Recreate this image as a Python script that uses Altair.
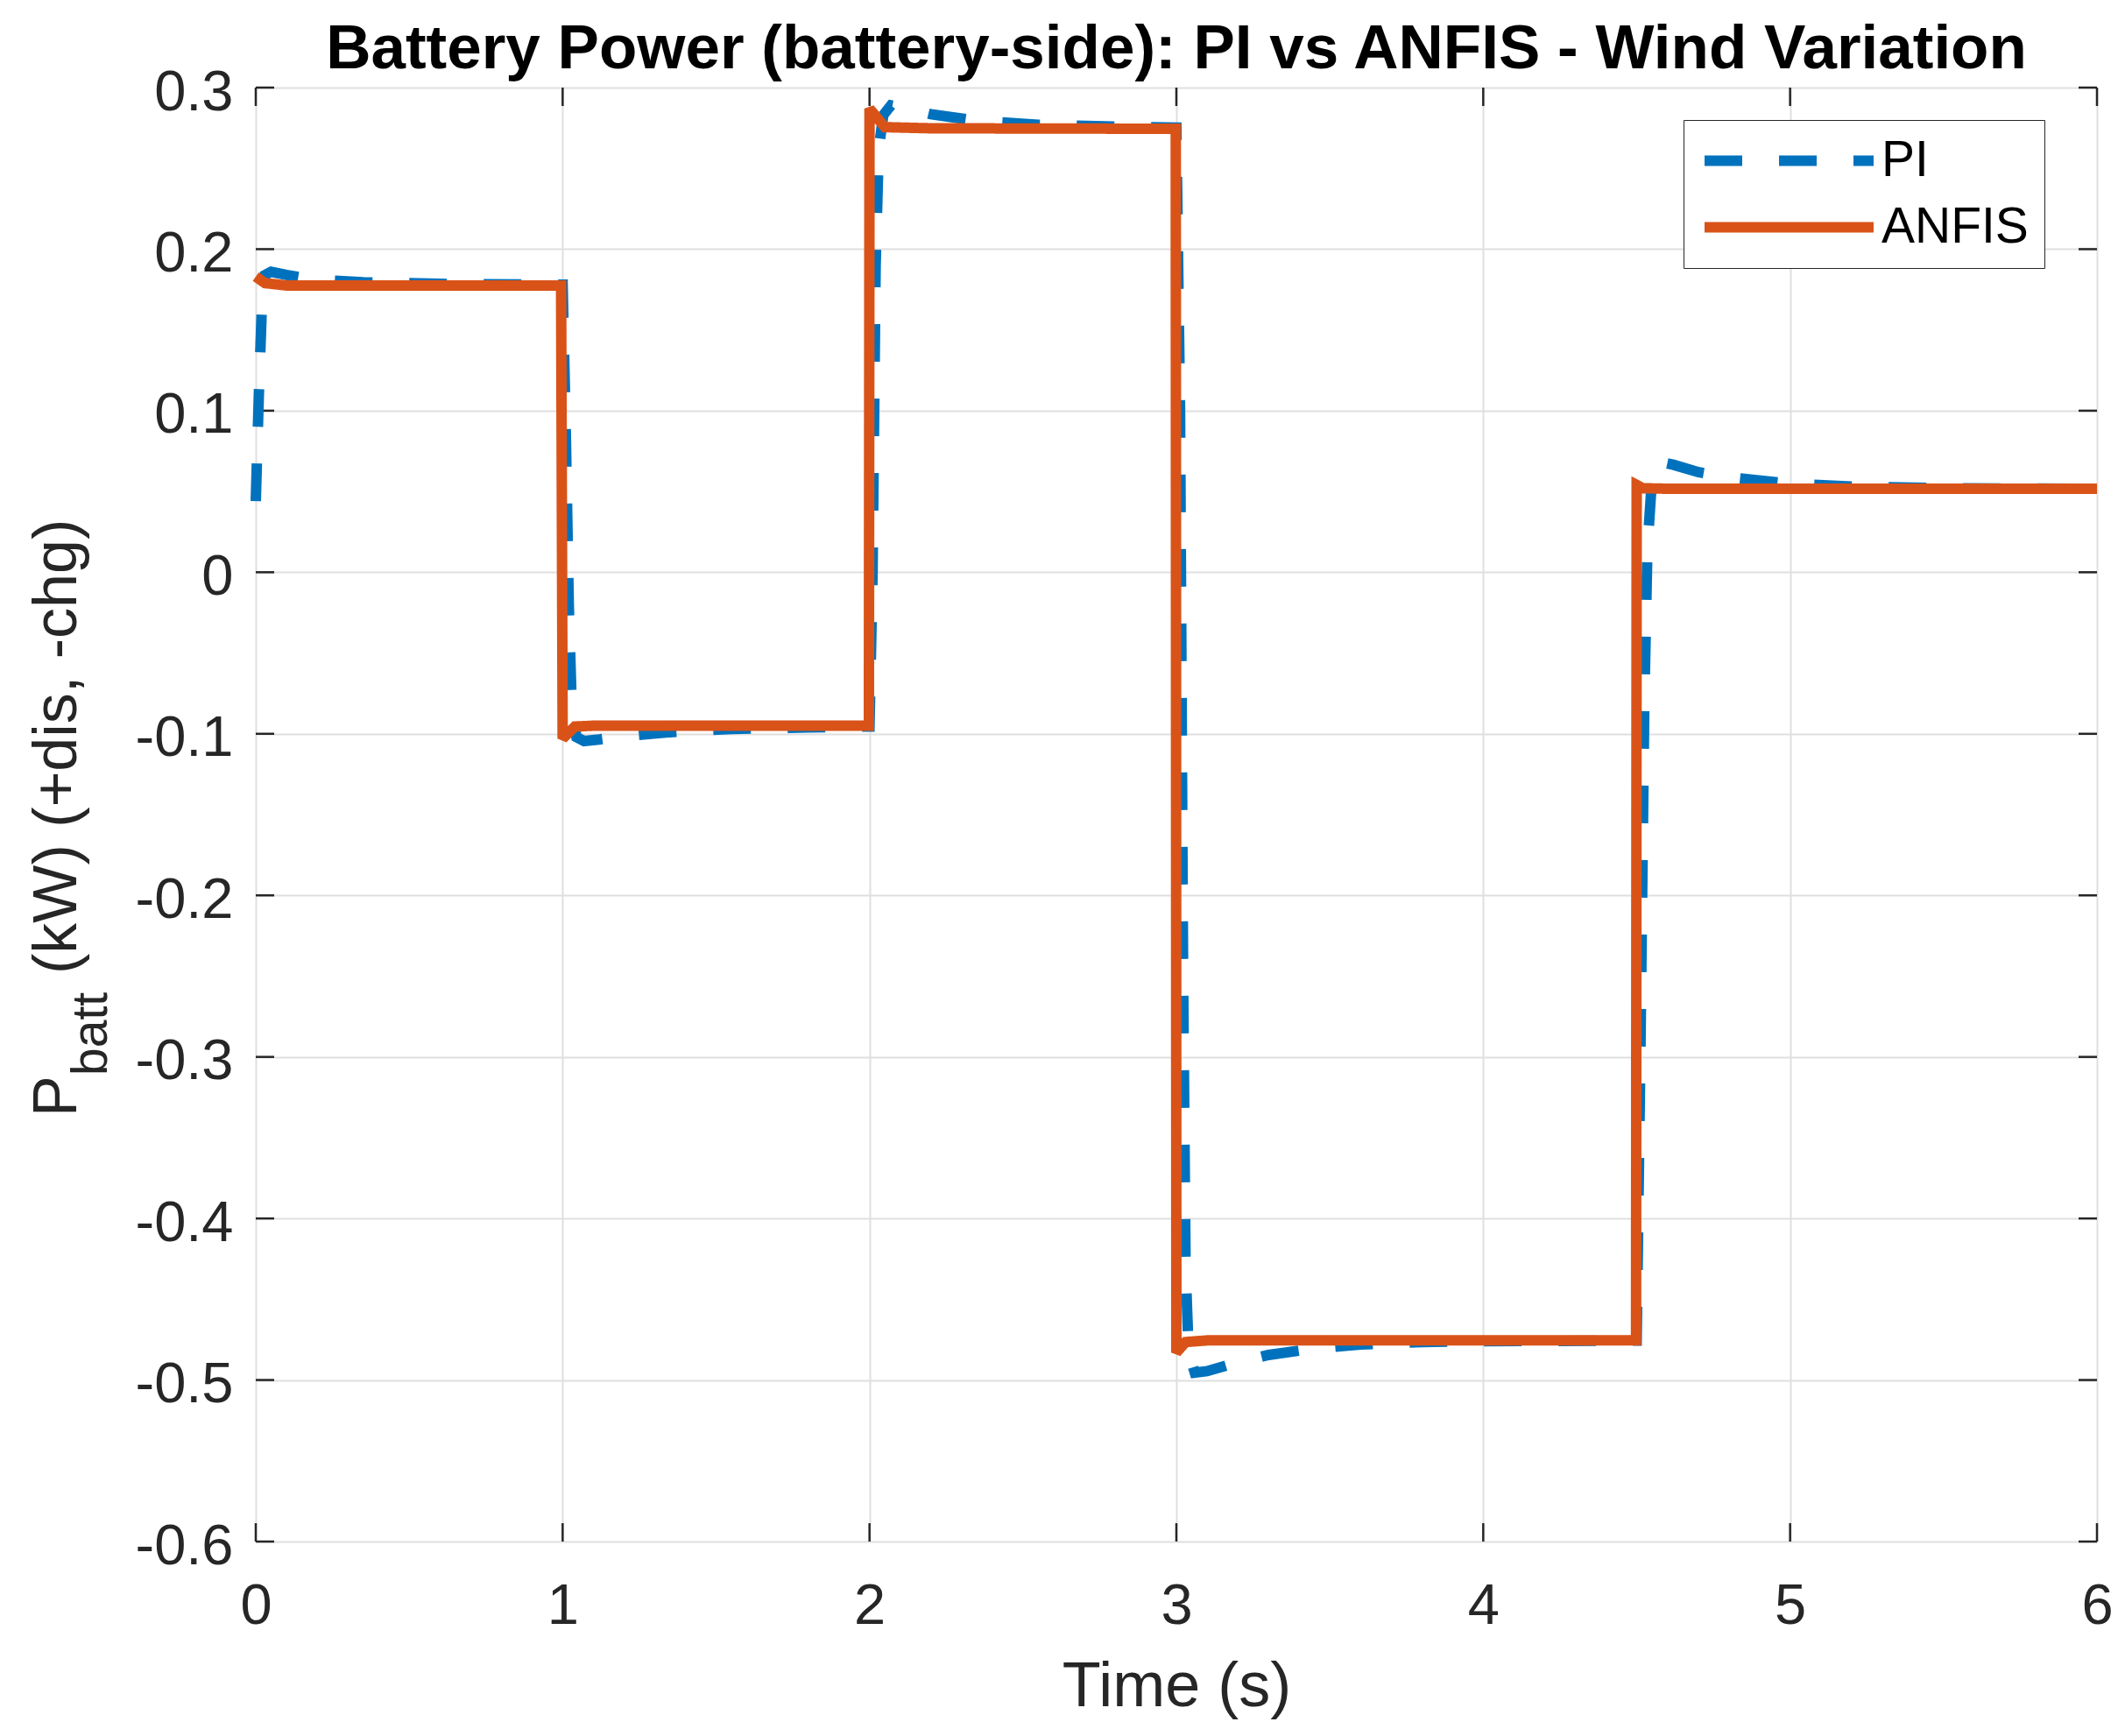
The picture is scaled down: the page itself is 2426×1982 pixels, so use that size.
import altair as alt
import pandas as pd

# ---------------- data ----------------
title_text = ["Battery Power (battery-side): PI vs ANFIS - Wind Variation"]
x_title = "Time (s)"
y_label_main = ["P"]
y_label_sub = ["batt"]
y_label_rest = ["(kW) (+dis, -chg)"]

series_names = ["PI", "ANFIS"]
series_colors = ["#0072BD", "#D95319"]
series_dash = [[43, 42], [1, 0]]

t_pi = [0.0, 0.01, 0.02, 0.03, 0.05, 0.1, 0.2, 0.35, 0.6, 1.0,
        1.01, 1.02, 1.03, 1.045, 1.07, 1.12, 1.2, 1.35, 1.55, 1.8, 2.0,
        2.01, 2.02, 2.03, 2.045, 2.07, 2.1, 2.2, 2.35, 2.55, 2.8, 3.0,
        3.012, 3.022, 3.03, 3.04, 3.06, 3.1, 3.2, 3.3, 3.45, 3.6, 3.8, 4.0, 4.5,
        4.512, 4.525, 4.535, 4.55, 4.57, 4.62, 4.7, 4.8, 5.0, 5.2, 5.5, 6.0]
v_pi = [0.044, 0.11, 0.165, 0.184, 0.186, 0.184, 0.181, 0.1795, 0.1785, 0.178,
        0.09, -0.02, -0.085, -0.102, -0.1045, -0.1035, -0.1015, -0.099, -0.097, -0.096, -0.0955,
        0.0, 0.19, 0.262, 0.283, 0.289, 0.288, 0.2835, 0.2795, 0.277, 0.2758, 0.2752,
        0.1, -0.25, -0.43, -0.483, -0.4955, -0.4945, -0.489, -0.4845, -0.4805, -0.478, -0.4765, -0.476, -0.4756,
        -0.3, -0.08, 0.015, 0.058, 0.0685, 0.0665, 0.062, 0.0588, 0.0548, 0.053, 0.052, 0.0517]

t_anfis = [0.0, 0.03, 0.1, 0.995, 1.0, 1.04, 1.1, 1.998, 2.0, 2.05, 2.2, 2.998,
           3.0, 3.03, 3.1, 4.498, 4.5, 4.52, 4.6, 6.0]
v_anfis = [0.183, 0.179, 0.1775, 0.1775, -0.103, -0.0955, -0.095, -0.095, 0.287, 0.2755, 0.2748, 0.2745,
           -0.483, -0.4765, -0.4755, -0.4755, 0.054, 0.052, 0.0517, 0.0517]

x_ticks = [0, 1, 2, 3, 4, 5, 6]
y_ticks = [-0.6, -0.5, -0.4, -0.3, -0.2, -0.1, 0.0, 0.1, 0.2, 0.3]

# ---------------- layout ----------------
W, H = 2102, 1660
TICK = 21
FONT = "Liberation Sans"
AX_COLOR = "#262626"

xscale = alt.Scale(domain=[0, 6], nice=False, zero=False)
yscale = alt.Scale(domain=[-0.6, 0.3], nice=False, zero=False)

xaxis = alt.Axis(values=x_ticks, format="d", title=x_title, grid=True,
                 gridColor="#dfdfdf", gridWidth=2, domain=False, ticks=False, tickSize=0,
                 labelFont=FONT, labelFontSize=65, labelColor=AX_COLOR,
                 labelBaseline="alphabetic", labelPadding=93, labelFlush=False,
                 labelOverlap=False,
                 titleFont=FONT, titleFontSize=72, titleFontWeight="normal",
                 titleColor=AX_COLOR, titleBaseline="alphabetic", titleY=187,
                 titleX=W / 2, titleAlign="center")
yaxis = alt.Axis(values=y_ticks, title=None, grid=True,
                 gridColor="#dfdfdf", gridWidth=2, domain=False, ticks=False, tickSize=0,
                 labelFont=FONT, labelFontSize=65, labelColor=AX_COLOR,
                 labelBaseline="alphabetic", labelOffset=25, labelPadding=26,
                 labelAlign="right", labelFlush=False, labelOverlap=False,
                 labelExpr="(datum.value < -1e-9 ? '-' : '') + format(abs(datum.value), '.1~f')")


def X():
    return alt.X("t:Q", scale=xscale, axis=xaxis)


def Y():
    return alt.Y("v:Q", scale=yscale, axis=yaxis)


legend = alt.Legend(title=None, orient="none", legendX=1630, legendY=37,
                    symbolType="stroke", symbolSize=37249, symbolStrokeWidth=12,
                    labelFont=FONT, labelFontSize=57, labelColor="#000000",
                    labelOffset=3, labelLimit=500, padding=18, rowPadding=18,
                    clipHeight=57,
                    fillColor="#ffffff", strokeColor=AX_COLOR)

color_enc = alt.Color("series:N", scale=alt.Scale(domain=series_names, range=series_colors),
                      legend=legend)
dash_enc = alt.StrokeDash("series:N", scale=alt.Scale(domain=series_names, range=series_dash),
                          legend=legend)

df_pi = pd.DataFrame({"t": t_pi, "v": v_pi, "series": "PI"})
df_an = pd.DataFrame({"t": t_anfis, "v": v_anfis, "series": "ANFIS"})

line_pi = alt.Chart(df_pi).mark_line(strokeWidth=12, strokeCap="butt",
                                      strokeJoin="miter", strokeMiterLimit=2).encode(
    x=X(), y=Y(), color=color_enc, strokeDash=dash_enc)
line_an = alt.Chart(df_an).mark_line(strokeWidth=12, strokeCap="butt",
                                      strokeJoin="miter", strokeMiterLimit=2).encode(
    x=X(), y=Y(), color=color_enc, strokeDash=dash_enc)

df_xt = pd.DataFrame({"t": x_ticks})
df_yt = pd.DataFrame({"v": y_ticks})
rule_style = dict(color=AX_COLOR, strokeWidth=2.5)
xt_bottom = alt.Chart(df_xt).mark_rule(**rule_style).encode(
    x=X(), y=alt.value(H), y2=alt.value(H - TICK))
xt_top = alt.Chart(df_xt).mark_rule(**rule_style).encode(
    x=X(), y=alt.value(0), y2=alt.value(TICK))
yt_left = alt.Chart(df_yt).mark_rule(**rule_style).encode(
    y=Y(), x=alt.value(0), x2=alt.value(TICK))
yt_right = alt.Chart(df_yt).mark_rule(**rule_style).encode(
    y=Y(), x=alt.value(W), x2=alt.value(W - TICK))

# chart title as a text mark centred over the plot
title_mark = alt.Chart(pd.DataFrame({"s": title_text})).mark_text(
    align="center", baseline="alphabetic", font=FONT, fontSize=71, fontWeight="bold",
    color="#000000").encode(text="s:N", x=alt.value(W / 2), y=alt.value(-22))

# y-axis label with subscript, as rotated text pieces
lab_main = alt.Chart(pd.DataFrame({"s": y_label_main})).mark_text(
    angle=270, align="left", baseline="alphabetic", font=FONT, fontSize=70,
    color=AX_COLOR).encode(text="s:N", x=alt.value(-205), y=alt.value(1175))
lab_sub = alt.Chart(pd.DataFrame({"s": y_label_sub})).mark_text(
    angle=270, align="left", baseline="alphabetic", font=FONT, fontSize=57,
    color=AX_COLOR).encode(text="s:N", x=alt.value(-170), y=alt.value(1128))
lab_rest = alt.Chart(pd.DataFrame({"s": y_label_rest})).mark_text(
    angle=270, align="left", baseline="alphabetic", font=FONT, fontSize=70,
    color=AX_COLOR).encode(text="s:N", x=alt.value(-205), y=alt.value(1012))

chart = alt.layer(
    xt_bottom, xt_top, yt_left, yt_right, line_pi, line_an,
    title_mark, lab_main, lab_sub, lab_rest
).properties(
    width=W, height=H,
    padding={"left": 284, "top": 92, "right": 24, "bottom": 214},
    autosize=alt.AutoSizeParams(type="none"),
).configure_view(
    stroke=AX_COLOR, strokeWidth=3
).configure_legend(
    strokeWidth=2.5
).configure(background="#ffffff")

chart.save("out.html", embed_options={"renderer": "svg", "actions": False})
